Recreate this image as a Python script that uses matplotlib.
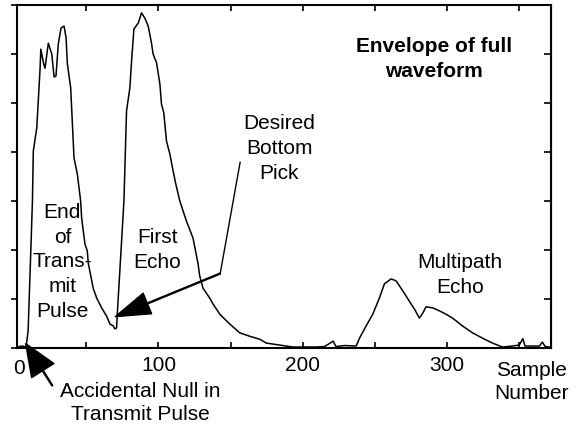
import matplotlib
matplotlib.use("Agg")
import matplotlib.pyplot as plt

plt.rcParams['font.family'] = ['Liberation Sans', 'DejaVu Sans']

# envelope (sample number, amplitude)
sample = [2.1, 5.5, 8.3, 9.7, 11.1, 12.7, 13.3, 15.7, 18.0, 18.5, 20.3, 21.4, 23.7, 26.1,
          27.7, 29.0, 30.6, 32.5, 34.6, 36.0, 36.9, 39.2, 41.5, 43.8, 46.1, 46.8, 49.1,
          50.7, 51.4, 54.8, 57.2, 60.6, 64.1, 66.4, 68.7, 69.8, 71.0, 71.4, 76.1, 77.9,
          80.2, 81.4, 83.0, 86.0, 88.3, 90.6, 92.9, 95.2, 96.3, 98.7, 101.0, 102.1, 103.7,
          105.6, 107.9, 109.8, 112.0, 114.8, 119.4, 124.0, 127.5, 128.6, 130.9, 135.5,
          137.8, 142.5, 149.4, 156.3, 163.2, 170.1, 174.8, 184.0, 193.2, 209.3, 215.0,
          219.0, 221.0, 223.0, 229.0, 237.0, 239.3, 243.9, 248.5, 253.1, 256.6, 261.2,
          264.7, 268.1, 271.6, 275.0, 277.3, 280.8, 283.1, 285.4, 290.0, 294.6, 299.2,
          303.8, 310.7, 317.6, 324.6, 331.5, 338.4, 345.0, 350.0, 352.5, 354.0, 364.0,
          366.0, 368.0, 370.7]
envelope = [0.02, 0.04, 0.02, 0.35, 1.57, 3.0, 4.02, 4.49, 5.71, 6.10, 5.82, 5.71, 6.22, 6.0,
            5.53, 5.55, 6.20, 6.53, 6.57, 6.33, 5.80, 5.31, 3.88, 3.55, 3.0, 2.65, 2.12,
            1.98, 1.73, 1.22, 1.02, 0.82, 0.65, 0.49, 0.45, 0.39, 0.41, 0.65, 3.0, 4.84,
            5.31, 5.86, 6.51, 6.63, 6.84, 6.73, 6.57, 6.22, 6.0, 5.82, 5.39, 4.98, 4.80,
            4.22, 3.96, 3.67, 3.35, 3.0, 2.59, 2.24, 1.71, 1.47, 1.22, 1.02,
            0.90, 0.69, 0.49, 0.31, 0.24, 0.18, 0.10, 0.06, 0.02, 0.02, 0.03,
            0.10, 0.14, 0.03, 0.05, 0.04, 0.20, 0.45, 0.69, 1.02, 1.31, 1.41,
            1.37, 1.22, 1.06, 0.90, 0.80, 0.61, 0.71, 0.84, 0.82, 0.76, 0.69,
            0.61, 0.45, 0.31, 0.20, 0.10, 0.02, 0.04, 0.06, 0.19, 0.04, 0.04,
            0.12, 0.03, 0.02]

xtick_vals = [100, 200, 300]
xtick_minor = [50, 150, 250, 350]

fig = plt.figure(figsize=(5.78, 4.29), dpi=100)
ax = fig.add_axes([17 / 578, 1 - 348 / 429, 534 / 578, 343 / 429])

ax.plot(sample, envelope, color='black', lw=1.1)

ax.set_xlim(2, 372)
ax.set_ylim(0, 7)
ax.set_xticks(xtick_vals)
ax.set_xticks(xtick_minor, minor=True)
ax.set_yticks(range(8))
ax.set_yticklabels([])
for s in ax.spines.values():
    s.set_linewidth(1.5)

ax.tick_params(axis='x', which='both', direction='in', top=True, length=4, width=1.2,
               labelsize=15, pad=6)
ax.tick_params(axis='y', direction='out', length=4, width=1.2)
right = ax.secondary_yaxis('right')
right.set_yticks(range(8))
right.set_yticklabels([])
right.tick_params(direction='in', length=5, width=1.2)
ax.text(3.3, -0.22, '0', ha='center', va='top', fontsize=15, clip_on=False)

# labels
ax.text(291, 5.9, 'Envelope of full\nwaveform', ha='center', va='center',
        fontsize=15, fontweight='bold', linespacing=1.45)
ax.text(183.6, 4.07, 'Desired\nBottom\nPick', ha='center', va='center', fontsize=15,
        linespacing=1.38)
ax.text(33.4, 1.76, 'End\nof\nTrans-\nmit\nPulse', ha='center', va='center', fontsize=15,
        linespacing=1.38)
ax.text(99.2, 2.0, 'First\nEcho', ha='center', va='center', fontsize=15, linespacing=1.38)
ax.text(309, 1.49, 'Multipath\nEcho', ha='center', va='center', fontsize=15,
        linespacing=1.38)
ax.text(358.8, -0.69, 'Sample\nNumber', ha='center', va='center', fontsize=15,
        linespacing=1.25, clip_on=False)
ax.text(87.4, -1.12, 'Accidental Null in\nTransmit Pulse', ha='center', va='center',
        fontsize=15, linespacing=1.25, clip_on=False)

# arrows
ax.plot([156.6, 142.8], [3.79, 1.52], color='black', lw=1.0)
ax.annotate('', xy=(70.1, 0.64), xytext=(142.8, 1.52),
            arrowprops=dict(facecolor='black', edgecolor='black', width=0.7,
                            headwidth=16, headlength=25, shrink=0))
ax.annotate('', xy=(8.0, 0.09), xytext=(26.5, -0.77), annotation_clip=False,
            arrowprops=dict(facecolor='black', edgecolor='black', width=0.7,
                            headwidth=19, headlength=23, shrink=0))

fig.savefig('out.png', dpi=100)
